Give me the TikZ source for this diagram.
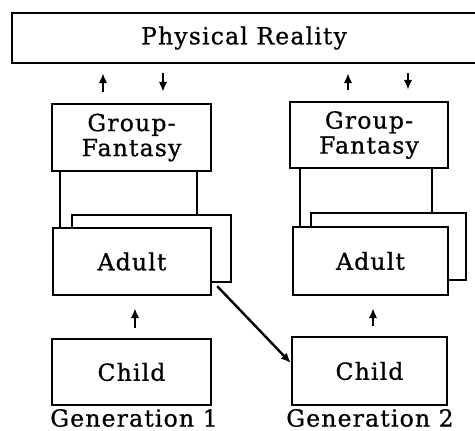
\documentclass[tikz,border=0pt]{standalone}
\usepackage{fontspec}
\setmainfont{DejaVu Serif}[LetterSpace=5, FakeBold=0.8]
\usepackage{tikz}
\usetikzlibrary{arrows.meta,calc,positioning}

\tikzset{
  box/.style={draw, line width=2.4pt, fill=white, align=center,
    font=\fontsize{23.5}{25}\selectfont, inner sep=0pt},
  arr/.style={line width=2.4pt, -{Latex[length=10pt,width=8.5pt]}},
  link/.style={line width=2.2pt},
}

\begin{document}
\begin{tikzpicture}[x=1pt,y=-1pt]
    \useasboundingbox (0,0) rectangle (475,431);

    % TOP: shared reality
    \node[box, minimum width=464pt, minimum height=50pt] (reality) at (244,38) {Physical Reality};

    % LEFT: Generation 1
    \node[box, minimum width=159pt, minimum height=67pt] (fant1) at (131.5,137.5) {Group-\\Fantasy};
    \node[box, minimum width=159pt, minimum height=67pt] (back1) at (151.5,248.5) {};
    \node[box, minimum width=158pt, minimum height=67pt] (adult1) at (132,261.5) {Adult};
    \node[box, minimum width=159pt, minimum height=66pt] (child1) at (131.5,372) {Child};
    \node[font=\fontsize{23.5}{25}\selectfont] (gen1) at (134,418) {Generation 1};
    \draw[link] ([xshift=-71.5pt]fant1.south) -- ([xshift=-71.5pt]fant1.south |- adult1.north);
    \draw[link] ([xshift=65.5pt]fant1.south) -- ([xshift=65.5pt]fant1.south |- back1.north);
    \draw[arr, shorten <=11pt, shorten >=9pt] ([xshift=-28.5pt]fant1.north) -- ([xshift=-28.5pt]fant1.north |- reality.south);
    \draw[arr, shorten <=9pt, shorten >=11pt] ([xshift=31.5pt]fant1.north |- reality.south) -- ([xshift=31.5pt]fant1.north);
    \draw[arr, shorten <=10pt, shorten >=12pt] ([xshift=3.5pt]child1.north) -- ([xshift=3.5pt]child1.north |- adult1.south);

    % RIGHT: Generation 2
    \node[box, minimum width=158pt, minimum height=66pt] (fant2) at (369,135) {Group-\\Fantasy};
    \node[box, minimum width=155pt, minimum height=67pt] (back2) at (388.5,246.5) {};
    \node[box, minimum width=155pt, minimum height=68pt] (adult2) at (370.5,261) {Adult};
    \node[box, minimum width=155pt, minimum height=68pt] (child2) at (369.5,371) {Child};
    \node[font=\fontsize{23.5}{25}\selectfont] (gen2) at (370,418) {Generation 2};
    \draw[link] ([xshift=-69pt]fant2.south) -- ([xshift=-69pt]fant2.south |- adult2.north);
    \draw[link] ([xshift=63pt]fant2.south) -- ([xshift=63pt]fant2.south |- back2.north);
    \draw[arr, shorten <=11pt, shorten >=9pt] ([xshift=-21pt]fant2.north) -- ([xshift=-21pt]fant2.north |- reality.south);
    \draw[arr, shorten <=9pt, shorten >=11pt] ([xshift=39pt]fant2.north |- reality.south) -- ([xshift=39pt]fant2.north);
    \draw[arr, shorten <=10pt, shorten >=12pt] ([xshift=3.5pt]child2.north) -- ([xshift=3.5pt]child2.north |- adult2.south);

    % MIDDLE: handing on
    \draw[arr] ([shift={(5pt,10pt)}]adult1.south east) -- ([yshift=8pt]child2.west);
\end{tikzpicture}
\end{document}
